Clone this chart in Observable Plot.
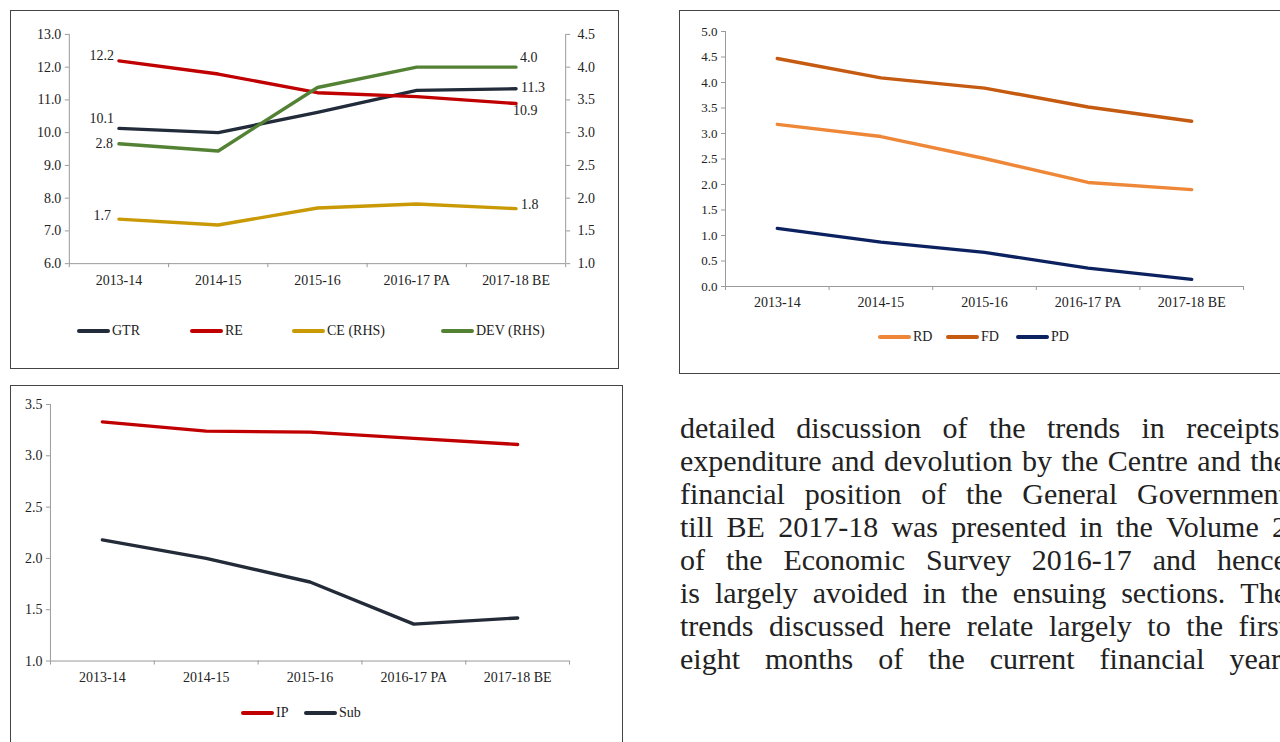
<!DOCTYPE html>
<html><head><meta charset="utf-8">
<script src="https://cdn.jsdelivr.net/npm/d3@7"></script>
<script src="https://cdn.jsdelivr.net/npm/@observablehq/plot@0.6"></script>
<style>
html,body{margin:0;padding:0;background:#fff;overflow:hidden;width:1280px;height:742px;}
body{position:relative;font-family:'Liberation Serif','Times New Roman',serif;color:#222;}
.box{position:absolute;border:1px solid #444;box-sizing:border-box;background:#fff;overflow:visible;}
.box svg{position:absolute;left:-1px;top:-1px;overflow:visible;}
.item{position:absolute;display:flex;align-items:center;font-family:'Liberation Serif','Times New Roman',serif;font-size:14px;color:#222;transform:translateY(-50%);}
.sw{display:inline-block;width:33px;height:4px;border-radius:2px;margin-right:2px;}
.para{position:absolute;left:680px;top:411px;font-family:'Liberation Serif','Times New Roman',serif;font-size:30px;line-height:33px;color:#222;}
.para .ln{width:607px;display:flex;justify-content:space-between;gap:0.2em;white-space:nowrap;}
.para .ln span{flex:none;}
</style></head>
<body>
<div class="box" id="b1" style="left:10px;top:10px;width:609px;height:359px;"></div>
<div class="box" id="b2" style="left:679px;top:10px;width:640px;height:364px;"></div>
<div class="box" id="b3" style="left:10px;top:385px;width:613px;height:400px;"></div>
<div class="para" id="para"></div>
<script>
const categories = ["2013-14","2014-15","2015-16","2016-17 PA","2017-18 BE"];
// Chart 1 (left axis: GTR, RE; right axis: CE, DEV)
const gtr = [10.13, 10.0, 10.62, 11.29, 11.34];
const re  = [12.19, 11.79, 11.22, 11.1, 10.89];
const ce  = [1.68, 1.59, 1.85, 1.91, 1.84];
const dev = [2.83, 2.72, 3.69, 4.0, 4.0];
// Chart 2
const rd = [3.18, 2.94, 2.51, 2.04, 1.90];
const fd = [4.47, 4.09, 3.89, 3.52, 3.24];
const pd = [1.14, 0.87, 0.67, 0.36, 0.14];
// Chart 3
const ip  = [3.33, 3.24, 3.23, 3.17, 3.11];
const sub = [2.18, 2.0, 1.77, 1.36, 1.42];
const paragraphLines = [
  "detailed discussion of the trends in receipts,",
  "expenditure and devolution by the Centre and the",
  "financial position of the General Government",
  "till BE 2017-18 was presented in the Volume 2",
  "of the Economic Survey 2016-17 and hence",
  "is largely avoided in the ensuing sections. The",
  "trends discussed here relate largely to the first",
  "eight months of the current financial year."
];

const FONT = "'Liberation Serif','Times New Roman',serif";
const AX = "#9a9a9a";
const rows = (arr, f = v => v) => arr.map((v, i) => ({i, v, y: f(v)}));
const rhs = v => 6 + (v - 1) * 2; // map right axis (1..4.5) onto left (6..13)
const idx = d3.range(categories.length);
const bounds = d3.range(-0.5, categories.length, 1);

function xAxes() {
  return [
    Plot.axisX({ticks: bounds, tickFormat: () => "", tickSize: 4, stroke: AX, label: null}),
    Plot.axisX({ticks: idx, tickFormat: i => categories[i], tickSize: 0, tickPadding: 11, fontSize: 14, label: null})
  ];
}
function lineMark(arr, color, f) {
  return Plot.line(rows(arr, f), {x: "i", y: "y", stroke: color, strokeWidth: 3.4, strokeLinejoin: "round", strokeLinecap: "round"});
}
function legend(box, items, cy) {
  for (const [label, color, x] of items) {
    const d = document.createElement("div");
    d.className = "item";
    d.style.left = x + "px"; d.style.top = cy + "px";
    d.innerHTML = `<span class="sw" style="background:${color}"></span><span>${label}</span>`;
    box.appendChild(d);
  }
}
const C = {gtr:"#212b3a", re:"#c00000", ce:"#c99a06", dev:"#548235", rd:"#ee8838", fd:"#c55a11", pd:"#0c2160", ip:"#c00000", sub:"#232b38"};
const lbl = (anchor, dx, dy) => ({x: "i", y: "y", text: d => d.v.toFixed(1), textAnchor: anchor, dx, dy, fontSize: 14});

// ---- Chart 1
const p1 = Plot.plot({
  width: 609, height: 300, marginLeft: 59, marginRight: 52, marginTop: 24, marginBottom: 46,
  style: {fontFamily: FONT, fontSize: "14px", color: "#222", background: "transparent", overflow: "visible"},
  x: {domain: [-0.5, 4.5], axis: null},
  y: {domain: [6, 13], axis: null},
  marks: [
    Plot.ruleX([-0.5], {stroke: AX}),
    Plot.ruleX([4.5], {stroke: AX}),
    Plot.ruleY([6], {stroke: AX}),
    Plot.axisY({anchor: "left", ticks: d3.range(6, 13.01, 1), tickFormat: d => d.toFixed(1), tickSize: 4, tickPadding: 4, stroke: AX, fontSize: 14, label: null}),
    Plot.axisY({anchor: "right", ticks: d3.range(6, 13.01, 1), tickFormat: d => ((d - 6) / 2 + 1).toFixed(1), tickSize: 4, tickPadding: 8, stroke: AX, fontSize: 14, label: null}),
    ...xAxes(),
    lineMark(gtr, C.gtr),
    lineMark(re, C.re),
    lineMark(ce, C.ce, rhs),
    lineMark(dev, C.dev, rhs),
    Plot.text(rows(re).slice(0, 1), lbl("end", -5, -5)),
    Plot.text(rows(gtr).slice(0, 1), lbl("end", -5, -10)),
    Plot.text(rows(dev, rhs).slice(0, 1), lbl("end", -6, 0)),
    Plot.text(rows(ce, rhs).slice(0, 1), lbl("end", -8, -4)),
    Plot.text(rows(dev, rhs).slice(-1), lbl("start", 4, -10)),
    Plot.text(rows(gtr).slice(-1), lbl("start", 5, -1)),
    Plot.text(rows(re).slice(-1), lbl("start", -3, 7)),
    Plot.text(rows(ce, rhs).slice(-1), lbl("start", 5, -4))
  ]
});
const b1 = document.getElementById("b1");
b1.appendChild(p1);
legend(b1, [["GTR", C.gtr, 66], ["RE", C.re, 179], ["CE (RHS)", C.ce, 281], ["DEV (RHS)", C.dev, 430]], 320);

// ---- Chart 2
const p2 = Plot.plot({
  width: 601, height: 320, marginLeft: 46, marginRight: 37, marginTop: 21, marginBottom: 44,
  style: {fontFamily: FONT, fontSize: "13px", color: "#222", background: "transparent", overflow: "visible"},
  x: {domain: [-0.5, 4.5], axis: null},
  y: {domain: [0, 5], axis: null},
  marks: [
    Plot.ruleX([-0.5], {stroke: AX}),
    Plot.ruleY([0], {stroke: AX}),
    Plot.axisY({anchor: "left", ticks: d3.range(0, 5.01, 0.5), tickFormat: d => d.toFixed(1), tickSize: 4, tickPadding: 4, stroke: AX, fontSize: 13, label: null}),
    ...xAxes(),
    lineMark(rd, C.rd),
    lineMark(fd, C.fd),
    lineMark(pd, C.pd)
  ]
});
const b2 = document.getElementById("b2");
b2.appendChild(p2);
legend(b2, [["RD", C.rd, 198], ["FD", C.fd, 266], ["PD", C.pd, 336]], 326);

// ---- Chart 3
const p3 = Plot.plot({
  width: 612, height: 320, marginLeft: 40, marginRight: 52, marginTop: 19, marginBottom: 44,
  style: {fontFamily: FONT, fontSize: "14px", color: "#222", background: "transparent", overflow: "visible"},
  x: {domain: [-0.5, 4.5], axis: null},
  y: {domain: [1, 3.5], axis: null},
  marks: [
    Plot.ruleX([-0.5], {stroke: AX}),
    Plot.ruleY([1], {stroke: AX}),
    Plot.axisY({anchor: "left", ticks: d3.range(1, 3.51, 0.5), tickFormat: d => d.toFixed(1), tickSize: 4, tickPadding: 4, stroke: AX, fontSize: 14, label: null}),
    ...xAxes(),
    lineMark(ip, C.ip),
    lineMark(sub, C.sub)
  ]
});
const b3 = document.getElementById("b3");
b3.appendChild(p3);
legend(b3, [["IP", C.ip, 230], ["Sub", C.sub, 293]], 327);

// ---- Paragraph text
const para = document.getElementById("para");
for (const line of paragraphLines) {
  const d = document.createElement("div");
  d.className = "ln";
  for (const w of line.split(" ")) {
    const s = document.createElement("span");
    s.textContent = w;
    d.appendChild(s);
  }
  para.appendChild(d);
}
</script>
</body></html>
